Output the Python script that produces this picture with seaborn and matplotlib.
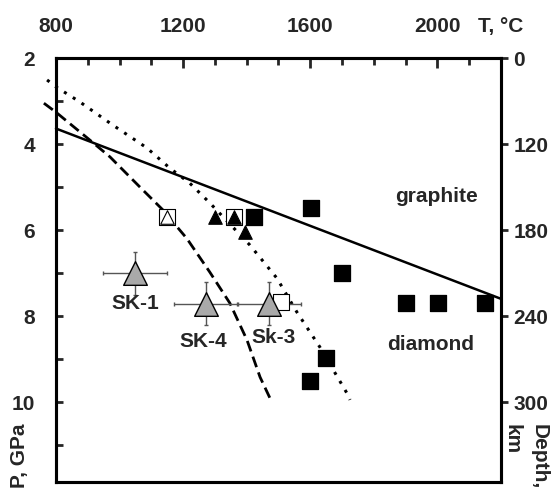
import numpy as np
import pandas as pd
import seaborn as sns
import matplotlib.pyplot as plt
from matplotlib.ticker import MultipleLocator, FixedLocator

sns.set_style("ticks")
plt.rcParams['font.family'] = ['Liberation Sans', 'DejaVu Sans']
plt.rcParams['font.weight'] = 'bold'

# graphite-diamond boundary (solid)
gd_T = [800, 2200]
gd_P = [3.64, 7.60]

# dashed curve
dash_T = [762, 800, 907, 970, 1064, 1136, 1212, 1284, 1347, 1401, 1442, 1479]
dash_P = [3.05, 3.26, 3.91, 4.30, 5.00, 5.53, 6.20, 6.98, 7.70, 8.56, 9.42, 10.0]

# dotted curve
dot_T = [772, 800, 875, 979, 1086, 1158, 1221, 1284, 1410, 1495, 1558, 1630, 1715, 1725]
dot_P = [2.51, 2.67, 3.02, 3.56, 4.09, 4.56, 4.91, 5.37, 6.35, 7.12, 7.91, 8.72, 9.79, 9.95]

# experiments
sq_T = [1423, 1602, 1699, 1901, 2001, 2149, 1649, 1599]
sq_P = [5.70, 5.49, 7.00, 7.70, 7.70, 7.70, 8.98, 9.51]
open_sq_T = [1149, 1360, 1508]
open_sq_P = [5.70, 5.70, 7.68]
tri_T = [1300, 1360, 1394]
tri_P = [5.70, 5.70, 6.05]
open_tri_T = [1149]
open_tri_P = [5.70]

# samples
sk_names = ['SK-1', 'SK-4', 'Sk-3']
sk_T = [1048, 1272, 1470]
sk_P = [7.0, 7.72, 7.72]
sk_Terr = [100, 100, 100]
sk_Perr = [0.5, 0.5, 0.5]
sk_lab_T = [1048, 1262, 1483]
sk_lab_P = [7.72, 8.60, 8.49]

depth_pos = [2, 4, 6, 8, 10]
depth_lab = ['0', '120', '180', '240', '300']

fig = plt.figure(figsize=(5.52, 4.96), dpi=100)
ax = fig.add_axes([0.1014, 0.0282, 0.8062, 0.8548])

sns.lineplot(x=gd_T, y=gd_P, color='black', lw=1.8, ax=ax, sort=False)
sns.lineplot(x=dash_T, y=dash_P, color='black', lw=2.0, linestyle=(0, (4, 2)), ax=ax, sort=False)
sns.lineplot(x=dot_T, y=dot_P, color='black', lw=2.2, linestyle=(0, (1, 2.4)), ax=ax, sort=False)
for ln in ax.lines:
    ln.set_clip_on(False)

sns.scatterplot(x=sq_T, y=sq_P, marker='s', s=135, color='black', edgecolor='black', ax=ax, zorder=4)
sns.scatterplot(x=open_sq_T, y=open_sq_P, marker='s', s=125, color='white', edgecolor='black',
                linewidth=0.8, ax=ax, zorder=4)
sns.scatterplot(x=tri_T, y=tri_P, marker='^', s=95, color='black', edgecolor='black', ax=ax, zorder=5)
sns.scatterplot(x=open_tri_T, y=open_tri_P, marker='^', s=95, color='white', edgecolor='black',
                linewidth=0.8, ax=ax, zorder=5)

ax.errorbar(sk_T, sk_P, xerr=sk_Terr, yerr=sk_Perr, fmt='none', ecolor='#555555',
            elinewidth=1, capsize=1.5, capthick=1, zorder=3)
sns.scatterplot(x=sk_T, y=sk_P, marker='^', s=290, color='#a9a9a9', edgecolor='black',
                linewidth=1, ax=ax, zorder=6)
for name, t, p in zip(sk_names, sk_lab_T, sk_lab_P):
    ax.text(t, p, name, ha='center', va='center', fontsize=15, fontweight='bold')

ax.text(1998, 5.23, 'graphite', ha='center', va='center', fontsize=15, fontweight='bold')
ax.text(1980, 8.67, 'diamond', ha='center', va='center', fontsize=15, fontweight='bold')

ax.set_xlim(800, 2200)
ax.set_ylim(11.86, 2)
ax.set_xlabel('')
ax.set_ylabel('')

ax.xaxis.tick_top()
ax.xaxis.set_major_locator(FixedLocator([800, 1200, 1600, 2000, 2200]))
ax.set_xticklabels(['800', '1200', '1600', '2000', 'T, °C'])
ax.xaxis.set_minor_locator(MultipleLocator(100))
ax.tick_params(axis='x', which='major', direction='in', length=7, width=2, pad=16,
               labelsize=15, top=True, bottom=False)
ax.tick_params(axis='x', which='minor', direction='in', length=5, width=2, top=True, bottom=False)

ax.yaxis.set_major_locator(FixedLocator([2, 4, 6, 8, 10]))
ax.set_yticklabels(['2', '4', '6', '8', '10'])
ax.yaxis.set_minor_locator(FixedLocator([3, 5, 7, 9, 11]))
ax.tick_params(axis='y', which='both', direction='in', length=5, width=2, pad=15,
               labelsize=15, right=False)

ax2 = ax.twinx()
ax2.set_ylim(ax.get_ylim())
ax2.set_yticks(depth_pos)
ax2.set_yticklabels(depth_lab)
ax2.tick_params(axis='y', direction='out', length=5, width=2, pad=4, labelsize=15)

for a in (ax, ax2):
    for sp in a.spines.values():
        sp.set_linewidth(2.2)
        sp.set_color('black')

for lab in ax.get_xticklabels() + ax.get_yticklabels() + ax2.get_yticklabels():
    lab.set_fontweight('bold')

fig.text(20 / 552, 1 - 424 / 496, 'P, GPa', rotation=90, ha='center', va='top',
         fontsize=15, fontweight='bold')
fig.text(539 / 552, 1 - 424 / 496, 'Depth,', rotation=270, ha='center', va='top',
         fontsize=15, fontweight='bold')
fig.text(512 / 552, 1 - 424 / 496, 'km', rotation=270, ha='center', va='top',
         fontsize=15, fontweight='bold')

fig.savefig('out.png', dpi=100)
